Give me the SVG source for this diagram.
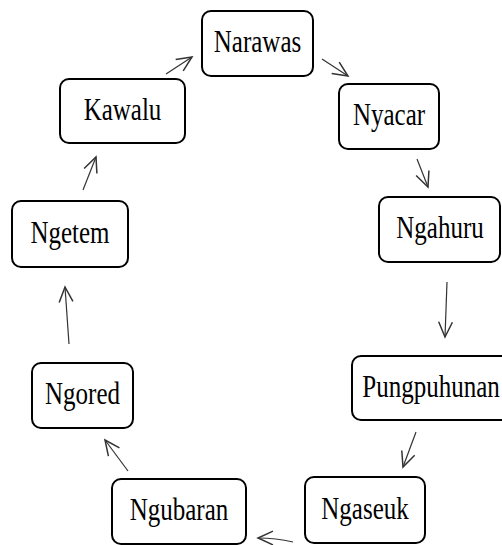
<svg xmlns="http://www.w3.org/2000/svg" width="502" height="545" viewBox="0 0 502 545">
<style>
.box{fill:#fff;stroke:#000;stroke-width:2}
.lbl{font-family:'Liberation Serif','Times New Roman',serif;font-size:25px;fill:#000;text-anchor:middle}
.con{stroke:#333;stroke-width:1.2;fill:none;marker-end:url(#ah)}
</style>
<defs>
<marker id="ah" markerUnits="userSpaceOnUse" markerWidth="20" markerHeight="20" viewBox="-14 -8 16 16" refX="0" refY="0" orient="auto">
<path d="M-12,-5.5 L0,0 L-12,5.5" fill="none" stroke="#333" stroke-width="1.2"/>
</marker>
</defs>
<rect width="502" height="545" fill="#fff"/>
<g id="connectors">
<line class="con" x1="166" y1="74" x2="192" y2="57"/>
<line class="con" x1="322" y1="59" x2="348" y2="76"/>
<line class="con" x1="417" y1="159" x2="428" y2="187"/>
<line class="con" x1="447" y1="282" x2="445" y2="337"/>
<line class="con" x1="416" y1="432" x2="403" y2="467"/>
<path class="con" d="M293,542 Q276,538 258,538"/>
<line class="con" x1="128" y1="471" x2="105" y2="440"/>
<line class="con" x1="69" y1="344" x2="65" y2="287"/>
<line class="con" x1="83" y1="190" x2="96" y2="157"/>
</g>
<g id="narawas"><rect class="box" x="202" y="11" width="111" height="65" rx="9"/><text class="lbl" transform="translate(257.5,52) scale(1,1.3)">Narawas</text></g>
<g id="nyacar"><rect class="box" x="339" y="84" width="100" height="65" rx="9"/><text class="lbl" transform="translate(389,125) scale(1,1.3)">Nyacar</text></g>
<g id="ngahuru"><rect class="box" x="379" y="197" width="121" height="65" rx="9"/><text class="lbl" transform="translate(440,238) scale(1,1.3)">Ngahuru</text></g>
<g id="pungpuhunan"><rect class="box" x="352" y="356" width="158" height="64" rx="9"/><text class="lbl" transform="translate(431,397) scale(1,1.3)">Pungpuhunan</text></g>
<g id="ngaseuk"><rect class="box" x="305" y="477" width="120" height="66" rx="9"/><text class="lbl" transform="translate(365,518.5) scale(1,1.3)">Ngaseuk</text></g>
<g id="ngubaran"><rect class="box" x="112" y="479" width="134" height="65" rx="9"/><text class="lbl" transform="translate(179,520) scale(1,1.3)">Ngubaran</text></g>
<g id="ngored"><rect class="box" x="32" y="363" width="101" height="65" rx="9"/><text class="lbl" transform="translate(82.5,404) scale(1,1.3)">Ngored</text></g>
<g id="ngetem"><rect class="box" x="12" y="201" width="116" height="66" rx="9"/><text class="lbl" transform="translate(70,243) scale(1,1.3)">Ngetem</text></g>
<g id="kawalu"><rect class="box" x="60" y="79" width="125" height="64" rx="9"/><text class="lbl" transform="translate(122.5,120) scale(1,1.3)">Kawalu</text></g>
</svg>
